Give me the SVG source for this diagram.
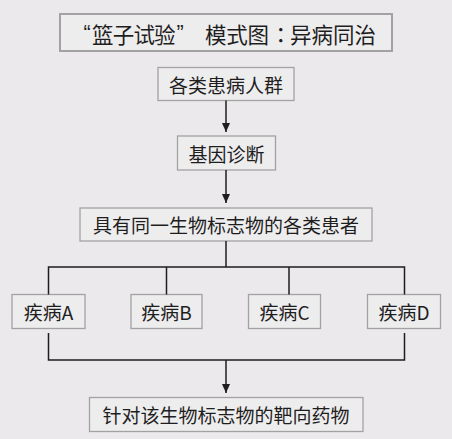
<svg xmlns="http://www.w3.org/2000/svg" width="452" height="439" viewBox="0 0 452 439">
<defs>
<style>
.box{fill:#eeedee;stroke:#a3a2a3;stroke-width:1.3}
.title{fill:#eeedee;stroke:#a3a2a3;stroke-width:2}
.t{font-family:"Noto Sans CJK SC","Noto Sans",sans-serif;font-size:19px;fill:#1e1e1e;text-anchor:middle;dominant-baseline:central}
.tt{font-family:"Noto Sans CJK SC","Noto Sans",sans-serif;font-size:21.5px;fill:#1e1e1e;dominant-baseline:central}
.q{font-family:"Liberation Sans",sans-serif}
.ln{fill:none;stroke:#1e1e1e;stroke-width:1.5}
</style>
<marker id="ah" markerWidth="9" markerHeight="8" refX="9" refY="4" orient="auto" markerUnits="userSpaceOnUse" viewBox="0 0 9 8">
<path d="M0,0 L9,4 L0,8 Z" fill="#1e1e1e"/>
</marker>
</defs>
<rect width="452" height="439" fill="#ebe9eb"/>
<g id="title">
<rect class="title" x="60" y="14" width="332" height="37"/>
<text class="tt" y="33"><tspan class="q" x="83.5">“</tspan><tspan x="92" style="letter-spacing:-0.8px">篮子试验</tspan><tspan class="q" x="176.5">”</tspan><tspan x="205" style="letter-spacing:-0.3px">模式图</tspan><tspan x="270" style="font-family:'Noto Sans CJK TC',sans-serif">：</tspan><tspan x="290">异病同治</tspan></text>
</g>
<g id="n1">
<rect class="box" x="158" y="67.5" width="136" height="33"/>
<text class="t" x="226" y="84">各类患病人群</text>
</g>
<g id="n2">
<rect class="box" x="177.5" y="136" width="98" height="34"/>
<text class="t" x="226.5" y="153">基因诊断</text>
</g>
<g id="n3">
<rect class="box" x="80" y="208" width="292" height="33"/>
<text class="t" x="226" y="224.5">具有同一生物标志物的各类患者</text>
</g>
<g id="nA">
<rect class="box" x="12" y="294.5" width="73" height="34"/>
<text class="t" x="48.5" y="311.5">疾病A</text>
</g>
<g id="nB">
<rect class="box" x="131" y="294.5" width="71" height="34"/>
<text class="t" x="166.5" y="311.5">疾病B</text>
</g>
<g id="nC">
<rect class="box" x="248.5" y="294.5" width="72" height="34"/>
<text class="t" x="284.5" y="311.5">疾病C</text>
</g>
<g id="nD">
<rect class="box" x="367.5" y="294.5" width="73" height="34"/>
<text class="t" x="404" y="311.5">疾病D</text>
</g>
<g id="n4">
<rect class="box" x="89.5" y="397.5" width="273.5" height="34"/>
<text class="t" x="226" y="414.5">针对该生物标志物的靶向药物</text>
</g>
<g id="connectors">
<line class="ln" x1="226" y1="100.5" x2="226" y2="132" marker-end="url(#ah)"/>
<line class="ln" x1="226" y1="170" x2="226" y2="203" marker-end="url(#ah)"/>
<polyline class="ln" points="226,241 226,267"/>
<polyline class="ln" points="48.5,294.5 48.5,267 404.5,267 404.5,294.5"/>
<line class="ln" x1="166.5" y1="267" x2="166.5" y2="294.5"/>
<line class="ln" x1="289" y1="267" x2="289" y2="294.5"/>
<polyline class="ln" points="48.5,333 48.5,360 404.5,360 404.5,333"/>
<line class="ln" x1="226" y1="360" x2="226" y2="393" marker-end="url(#ah)"/>
</g>
</svg>
